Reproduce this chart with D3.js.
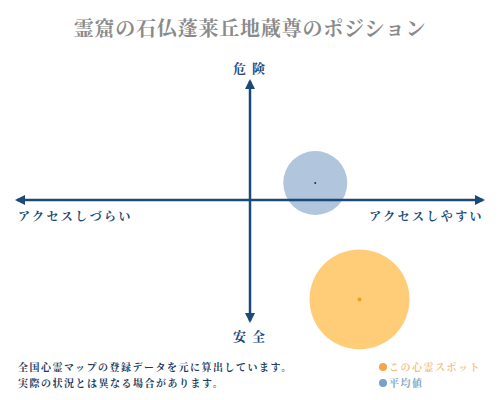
<!DOCTYPE html>
<html>
<head>
<meta charset="utf-8">
<script src="https://cdn.jsdelivr.net/npm/d3@7/dist/d3.min.js"></script>
<style>
  body { margin: 0; background: #fff; }
  svg { display: block; font-family: "Noto Serif CJK JP", "Noto Sans CJK JP", serif; }
</style>
</head>
<body>
<svg id="chart" width="500" height="400"></svg>
<script>
// ----- data -----
const title = '霊窟の石仏蓬莱丘地蔵尊のポジション';
const axisLabels = { top: '危険', bottom: '安全', left: 'アクセスしづらい', right: 'アクセスしやすい' };
const seriesNames  = ['この心霊スポット', '平均値'];
const seriesX      = [47, 28];    // access (-100 .. 100)
const seriesY      = [-82, 15];   // danger (-100 .. 100)
const seriesSize   = [50, 32];
const notes = ['全国心霊マップの登録データを元に算出しています。', '実際の状況とは異なる場合があります。'];
// ----------------

const W = 500, H = 400;
const cx = 250, cy = 200;
const navy = '#1b4a78';

const svg = d3.select('#chart');

const x = d3.scaleLinear().domain([-100, 100]).range([17, 483]);
const y = d3.scaleLinear().domain([-100, 100]).range([321, 81]);
const r = d3.scaleLinear().domain([0, 50]).range([0, 50]);

const fills  = ['#ffcd78', '#b1c5dc'];
const dots   = ['#f0a020', '#1b2f4a'];

// title
svg.append('text')
  .attr('x', W / 2).attr('y', 36)
  .attr('text-anchor', 'middle')
  .attr('font-size', '20px')
  .attr('font-weight', 'bold')
  .attr('letter-spacing', '0.8px')
  .attr('fill', '#8a8a8a')
  .text(title);

// bubbles (average drawn first so it sits below the axes)
const order = [1, 0];
svg.selectAll('circle.bubble')
  .data(order)
  .join('circle')
    .attr('class', 'bubble')
    .attr('cx', i => x(seriesX[i]))
    .attr('cy', i => y(seriesY[i]))
    .attr('r', i => r(seriesSize[i]))
    .attr('fill', i => fills[i]);

// axes with arrowheads
const defs = svg.append('defs');
defs.append('marker')
  .attr('id', 'arrow')
  .attr('viewBox', '0 0 10 10')
  .attr('refX', 8).attr('refY', 5)
  .attr('markerWidth', 4).attr('markerHeight', 4)
  .attr('orient', 'auto-start-reverse')
  .append('path')
    .attr('d', 'M0,0 L10,5 L0,10 z')
    .attr('fill', navy);

svg.append('line')
  .attr('x1', x(-100)).attr('x2', x(100))
  .attr('y1', cy).attr('y2', cy)
  .attr('stroke', navy).attr('stroke-width', 2.5)
  .attr('marker-start', 'url(#arrow)')
  .attr('marker-end', 'url(#arrow)');

svg.append('line')
  .attr('x1', cx).attr('x2', cx)
  .attr('y1', y(100)).attr('y2', y(-100))
  .attr('stroke', navy).attr('stroke-width', 2.5)
  .attr('marker-start', 'url(#arrow)')
  .attr('marker-end', 'url(#arrow)');

// center dots
svg.selectAll('circle.dot')
  .data(order)
  .join('circle')
    .attr('class', 'dot')
    .attr('cx', i => x(seriesX[i]))
    .attr('cy', i => y(seriesY[i]))
    .attr('r', i => i === 0 ? 2 : 1)
    .attr('fill', i => dots[i]);

// axis labels
const lab = (txt, px, py, anchor) => svg.append('text')
  .attr('x', px).attr('y', py)
  .attr('text-anchor', anchor)
  .attr('font-size', '12px')
  .attr('font-weight', 'bold')
  .attr('letter-spacing', '2.4px')
  .attr('fill', navy)
  .text(txt);

lab(axisLabels.top, cx + 2, 73, 'middle').attr('font-size', '13px').attr('letter-spacing', '6px');
lab(axisLabels.bottom, cx + 2, 341, 'middle').attr('font-size', '13px').attr('letter-spacing', '6px');
lab(axisLabels.left, 18, 221, 'start');
lab(axisLabels.right, 484, 221, 'end');

// notes
notes.forEach((n, i) => {
  svg.append('text')
    .attr('x', 18).attr('y', 371 + i * 16)
    .attr('font-size', '10px')
    .attr('font-weight', 'bold')
    .attr('letter-spacing', '1.5px')
    .attr('fill', '#1e3a5a')
    .text(n);
});

// legend
const legendDot  = ['#f2a54a', '#79a0c6'];
const legendText = ['#f3c283', '#86a6c6'];
seriesNames.forEach((name, i) => {
  svg.append('circle')
    .attr('cx', 383).attr('cy', 367 + i * 16)
    .attr('r', 4)
    .attr('fill', legendDot[i]);
  svg.append('text')
    .attr('x', 389).attr('y', 371 + i * 16)
    .attr('font-size', '10px')
    .attr('font-weight', 'bold')
    .attr('letter-spacing', '1.5px')
    .attr('fill', legendText[i])
    .text(name);
});
</script>
</body>
</html>
